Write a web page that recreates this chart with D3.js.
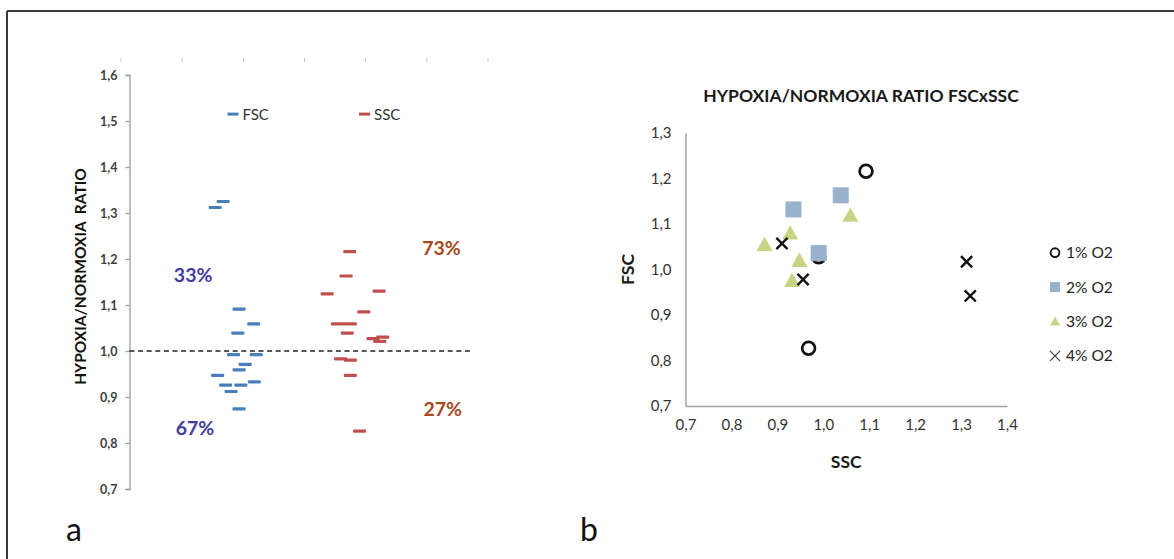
<!DOCTYPE html>
<html>
<head>
<meta charset="utf-8">
<script src="https://cdn.jsdelivr.net/npm/d3@7"></script>
<style>
  html, body { margin: 0; padding: 0; background: #fff; }
  svg { display: block; }
  text { font-family: Lato, "Open Sans", sans-serif; }
</style>
</head>
<body>
<svg id="chart" width="1174" height="559"></svg>
<script>
// ---------- Panel a data ----------
const leftYTicks = [0.7, 0.8, 0.9, 1.0, 1.1, 1.2, 1.3, 1.4, 1.5, 1.6];
const leftXTicks = [0, 1, 2, 3, 4, 5, 6];
const fscValues = [1.091, 1.059, 1.039, 0.992, 0.992, 0.971, 0.959, 0.947, 0.926, 0.926, 0.933, 0.912, 0.874, 1.312, 1.325];
const fscJitter = [1.93, 2.17, 1.91, 1.84, 2.21, 2.03, 1.93, 1.58, 1.71, 1.96, 2.18, 1.80, 1.93, 1.54, 1.67];
const sscValues = [1.216, 1.163, 1.124, 1.130, 1.085, 1.059, 1.059, 1.039, 1.027, 1.030, 1.021, 0.983, 0.980, 0.947, 0.826];
const sscJitter = [3.74, 3.68, 3.37, 4.22, 3.97, 3.54, 3.75, 3.70, 4.12, 4.28, 4.23, 3.59, 3.75, 3.75, 3.90];
const leftSeries = ["FSC", "SSC"];
const pctLabels = [
  { text: "33%", x: 1.18, y: 1.151, series: "FSC" },
  { text: "67%", x: 1.21, y: 0.817, series: "FSC" },
  { text: "73%", x: 5.24, y: 1.208, series: "SSC" },
  { text: "27%", x: 5.26, y: 0.859, series: "SSC" }
];

// ---------- Panel b data ----------
const rightXTicks = [0.7, 0.8, 0.9, 1.0, 1.1, 1.2, 1.3, 1.4];
const rightYTicks = [0.7, 0.8, 0.9, 1.0, 1.1, 1.2, 1.3];
const o2Series = ["1% O2", "2% O2", "3% O2", "4% O2"];
const o2_1_ssc = [1.093, 0.990, 0.968];
const o2_1_fsc = [1.216, 1.028, 0.827];
const o2_2_ssc = [1.038, 0.935, 0.990];
const o2_2_fsc = [1.163, 1.132, 1.036];
const o2_3_ssc = [1.059, 0.928, 0.872, 0.948, 0.932];
const o2_3_fsc = [1.119, 1.080, 1.055, 1.020, 0.976];
const o2_4_ssc = [0.910, 0.956, 1.312, 1.320];
const o2_4_fsc = [1.057, 0.978, 1.017, 0.942];

const svg = d3.select("#chart");
const fmt = d => d3.format(".1f")(d).replace(".", ",");

// Outer frame
svg.append("line").attr("x1", 7).attr("x2", 1174).attr("y1", 11).attr("y2", 11)
  .attr("stroke", "#3a3a3a").attr("stroke-width", 2);
svg.append("line").attr("x1", 7).attr("x2", 7).attr("y1", 11).attr("y2", 559)
  .attr("stroke", "#3a3a3a").attr("stroke-width", 2);

// ================= Panel a =================
const colL = { FSC: "#4a7ebb", SSC: "#c0504d" };
const pctCol = { FSC: "#433e9e", SSC: "#a84a22" };
const yL = d3.scaleLinear().domain([0.7, 1.6]).range([489, 75]);
const xL = d3.scaleLinear().domain([0, 6]).range([121, 488]);

// faint top ticks
svg.append("g").selectAll("line").data(leftXTicks).join("line")
  .attr("x1", d => xL(d)).attr("x2", d => xL(d)).attr("y1", 58).attr("y2", 62)
  .attr("stroke", "#c8c8c8").attr("stroke-width", 1);

const axL = svg.append("g").attr("transform", "translate(129.5,0)")
  .call(d3.axisLeft(yL).tickValues(leftYTicks).tickFormat(fmt).tickSize(4).tickPadding(8));
axL.select(".domain").attr("stroke", "#9a9a9a").attr("stroke-width", 1.3);
axL.selectAll(".tick line").attr("stroke", "#9a9a9a").attr("stroke-width", 1.3);
axL.selectAll(".tick text").attr("font-family", "Lato, sans-serif").attr("font-size", 12.5)
  .attr("font-weight", 700).attr("fill", "#404040");

svg.append("text")
  .attr("transform", `translate(86,${yL(1.162)}) rotate(-90)`)
  .attr("text-anchor", "middle")
  .attr("font-family", "'Liberation Sans', Arial, sans-serif")
  .attr("font-weight", 700).attr("font-size", 15.5).attr("fill", "#111")
  .attr("xml:space", "preserve")
  .text("HYPOXIA/NORMOXIA  RATIO");

// reference dashed line at 1.0
svg.append("line").attr("x1", 129.5).attr("x2", 471).attr("y1", yL(1.0)).attr("y2", yL(1.0))
  .attr("stroke", "#222").attr("stroke-width", 1.3).attr("stroke-dasharray", "5,3.6");

const dashW = 13, dashH = 3.2;
const leftData = [
  ...fscValues.map((v, i) => ({ s: "FSC", v, x: fscJitter[i] })),
  ...sscValues.map((v, i) => ({ s: "SSC", v, x: sscJitter[i] }))
];
svg.append("g").selectAll("rect").data(leftData).join("rect")
  .attr("x", d => xL(d.x) - dashW / 2).attr("y", d => yL(d.v) - dashH / 2)
  .attr("width", dashW).attr("height", dashH).attr("rx", 0.8)
  .attr("fill", d => colL[d.s]);

// legend panel a
const legL = svg.append("g").selectAll("g").data(leftSeries).join("g")
  .attr("transform", (d, i) => `translate(${[227.5, 359][i]},${yL(1.515)})`);
legL.append("rect").attr("x", 0).attr("y", -1.5).attr("width", 11).attr("height", 3)
  .attr("fill", d => colL[d]);
legL.append("text").attr("x", 15).attr("y", 5.5).attr("font-size", 15).attr("fill", "#333")
  .text(d => d);

// percentages
svg.append("g").selectAll("text").data(pctLabels).join("text")
  .attr("x", d => xL(d.x)).attr("y", d => yL(d.y)).attr("text-anchor", "middle")
  .attr("font-size", 19.5).attr("font-weight", 700).attr("fill", d => pctCol[d.series])
  .text(d => d.text);

svg.append("text").attr("x", 66).attr("y", 541).attr("font-size", 32).attr("fill", "#111").text("a");
svg.append("text").attr("x", 580).attr("y", 541).attr("font-size", 32).attr("fill", "#111").text("b");

// ================= Panel b =================
const xR = d3.scaleLinear().domain([0.7, 1.4]).range([685.5, 1007]);
const yR = d3.scaleLinear().domain([0.7, 1.3]).range([406, 133]);

const axX = svg.append("g").attr("transform", `translate(0,${yR(0.7)})`)
  .call(d3.axisBottom(xR).tickValues(rightXTicks).tickFormat(fmt).tickSize(0).tickPadding(13));
axX.select(".domain").attr("stroke", "#a0a0a0").attr("stroke-width", 1.5);
axX.selectAll(".tick text").attr("font-family", "Lato, sans-serif").attr("font-size", 15).attr("fill", "#333");

const axY = svg.append("g").attr("transform", `translate(${xR(0.7)},0)`)
  .call(d3.axisLeft(yR).tickValues(rightYTicks).tickFormat(fmt).tickSize(0).tickPadding(14));
axY.select(".domain").attr("stroke", "#a0a0a0").attr("stroke-width", 1.5);
axY.selectAll(".tick text").attr("font-family", "Lato, sans-serif").attr("font-size", 15).attr("fill", "#333");

svg.append("text").attr("x", 861).attr("y", 102).attr("text-anchor", "middle")
  .attr("font-size", 17.5).attr("font-weight", 700).attr("fill", "#1a1a1a")
  .text("HYPOXIA/NORMOXIA RATIO FSCxSSC");
svg.append("text").attr("x", xR(1.05)).attr("y", 468).attr("text-anchor", "middle")
  .attr("font-size", 17.5).attr("font-weight", 700).attr("fill", "#1a1a1a").text("SSC");
svg.append("text").attr("transform", `translate(634,${yR(1.0)}) rotate(-90)`).attr("text-anchor", "middle")
  .attr("font-size", 17.5).attr("font-weight", 700).attr("fill", "#1a1a1a").text("FSC");

const sqCol = "#98b2cd", triCol = "#c5d585";
function drawMarker(g, type, size) {
  if (type === 0) {
    g.append("circle").attr("r", size * 0.4).attr("fill", "none").attr("stroke", "#111").attr("stroke-width", size * 0.17);
  } else if (type === 1) {
    g.append("rect").attr("x", -size / 2).attr("y", -size / 2).attr("width", size).attr("height", size).attr("fill", sqCol);
  } else if (type === 2) {
    const h = size * 0.9, w = size;
    g.append("path").attr("d", `M0,${-h * 0.55}L${w / 2},${h * 0.45}L${-w / 2},${h * 0.45}Z`).attr("fill", triCol);
  } else {
    const a = size * 0.4;
    g.append("path").attr("d", `M${-a},${-a}L${a},${a}M${-a},${a}L${a},${-a}`)
      .attr("stroke", "#111").attr("stroke-width", size * 0.17).attr("fill", "none");
  }
}

const rightData = [
  ...o2_2_ssc.map((x, i) => ({ t: 1, x, y: o2_2_fsc[i] })),
  ...o2_1_ssc.map((x, i) => ({ t: 0, x, y: o2_1_fsc[i] })),
  ...o2_3_ssc.map((x, i) => ({ t: 2, x, y: o2_3_fsc[i] })),
  ...o2_4_ssc.map((x, i) => ({ t: 3, x, y: o2_4_fsc[i] }))
];
const order = [0, 1, 2, 3];
order.forEach(t => {
  rightData.filter(d => d.t === t).forEach(d => {
    const g = svg.append("g").attr("transform", `translate(${xR(d.x)},${yR(d.y)})`);
    drawMarker(g, t, t === 3 ? 14 : 16);
  });
});

// legend panel b
const legR = svg.append("g").selectAll("g").data(o2Series).join("g")
  .attr("transform", (d, i) => `translate(1055,${252.7 + i * 34.4})`);
legR.each(function (d, i) {
  const g = d3.select(this);
  if (i === 3) {
    g.append("path").attr("d", "M-5,-5L5,5M-5,5L5,-5").attr("stroke", "#444").attr("stroke-width", 1.3);
  } else {
    drawMarker(g.append("g"), i, i === 0 ? 11 : 10);
  }
  g.append("text").attr("x", 11).attr("y", 5.5).attr("font-size", 15.5).attr("fill", "#222").text(d);
});
</script>
</body>
</html>
